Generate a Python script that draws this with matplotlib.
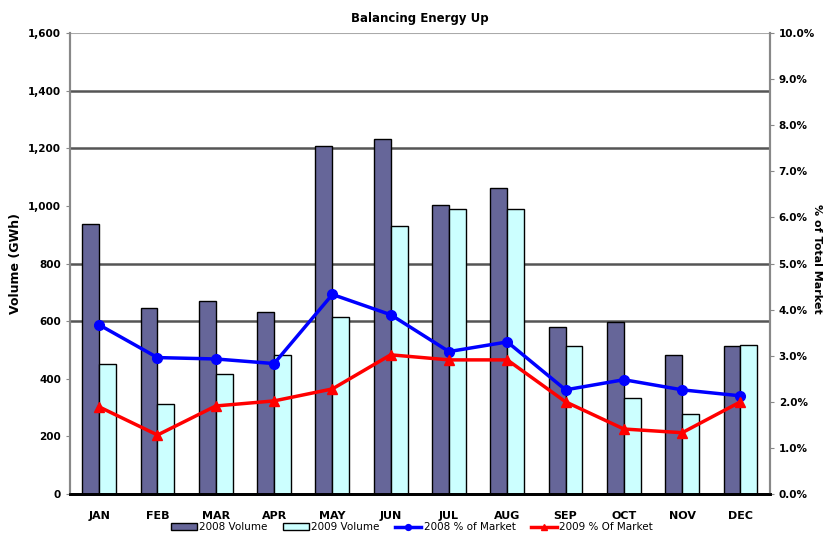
import numpy as np
import matplotlib.pyplot as plt
from matplotlib.ticker import FuncFormatter

# data
months = ['JAN', 'FEB', 'MAR', 'APR', 'MAY', 'JUN', 'JUL', 'AUG', 'SEP', 'OCT', 'NOV', 'DEC']
vol_2008 = [939, 647, 671, 633, 1207, 1231, 1005, 1061, 581, 598, 483, 515]
vol_2009 = [452, 313, 417, 483, 616, 932, 988, 988, 515, 334, 278, 518]
pct_2008 = [3.67, 2.96, 2.93, 2.83, 4.33, 3.89, 3.09, 3.30, 2.26, 2.48, 2.26, 2.13]
pct_2009 = [1.89, 1.28, 1.91, 2.02, 2.28, 3.02, 2.91, 2.91, 2.00, 1.41, 1.33, 2.00]
grid_levels = [600, 800, 1200, 1400]  # only these grid lines show in the original

x = np.arange(len(months))
w = 0.29

fig = plt.figure(figsize=(8.24, 5.39), dpi=100)
ax1 = fig.add_axes([0.085, 0.0835, 0.849, 0.855])

for g in grid_levels:
    ax1.axhline(g, color='#555555', linewidth=1.8, zorder=0)
ax1.axhline(1600, color='#aaaaaa', linewidth=1.5, zorder=0)
b1 = ax1.bar(x - w / 2, vol_2008, w, color='#666699', edgecolor='black', linewidth=1, label='2008 Volume', zorder=2)
b2 = ax1.bar(x + w / 2, vol_2009, w, color='#CCFFFF', edgecolor='black', linewidth=1, label='2009 Volume', zorder=2)

ax1.set_xlim(-0.5, 11.5)
ax1.set_ylim(0, 1600)
ax1.set_yticks(range(0, 1601, 200))
ax1.yaxis.set_major_formatter(FuncFormatter(lambda v, p: f'{int(v):,}'))
ax1.set_xticks(x)
ax1.set_xticklabels(months, fontweight='bold', fontsize=8)
ax1.tick_params(axis='x', length=0, pad=12)
ax1.tick_params(axis='y', labelsize=7.5, length=3, color='#888888')
for t in ax1.get_yticklabels():
    t.set_fontweight('bold')
ax1.set_ylabel('Volume (GWh)', fontweight='bold', fontsize=9)

ax2 = ax1.twinx()
l1, = ax2.plot(x, pct_2008, color='#0000FF', marker='o', markersize=7, linewidth=2.5, label='2008 % of Market')
l2, = ax2.plot(x, pct_2009, color='#FF0000', marker='^', markersize=7, linewidth=2.5, label='2009 % Of Market')
ax2.set_ylim(0, 10)
ax2.set_yticks(range(0, 11))
ax2.yaxis.set_major_formatter(FuncFormatter(lambda v, p: f'{v:.1f}%'))
ax2.tick_params(axis='y', labelsize=7.5, length=3, color='#888888')
for t in ax2.get_yticklabels():
    t.set_fontweight('bold')

for a in (ax1, ax2):
    a.spines['top'].set_visible(False)
    a.spines['left'].set_color('#888888')
    a.spines['right'].set_color('#888888')
    a.spines['left'].set_linewidth(1.5)
    a.spines['right'].set_linewidth(1.5)
    a.spines['bottom'].set_color('black')
    a.spines['bottom'].set_linewidth(2)

fig.text(0.991, 0.52, '% of Total Market', rotation=270, ha='center', va='center',
         fontsize=8, fontweight='bold')

ax1.set_title('Balancing Energy Up', fontweight='bold', fontsize=8.5, pad=8)

fig.legend(handles=[b1, b2, l1, l2], loc='lower center', bbox_to_anchor=(0.5, -0.005),
           ncol=4, frameon=False, fontsize=7.5, handlelength=2.5, columnspacing=1.5,
           handletextpad=0.2, markerscale=0.6)

fig.savefig('out.png', dpi=100)
